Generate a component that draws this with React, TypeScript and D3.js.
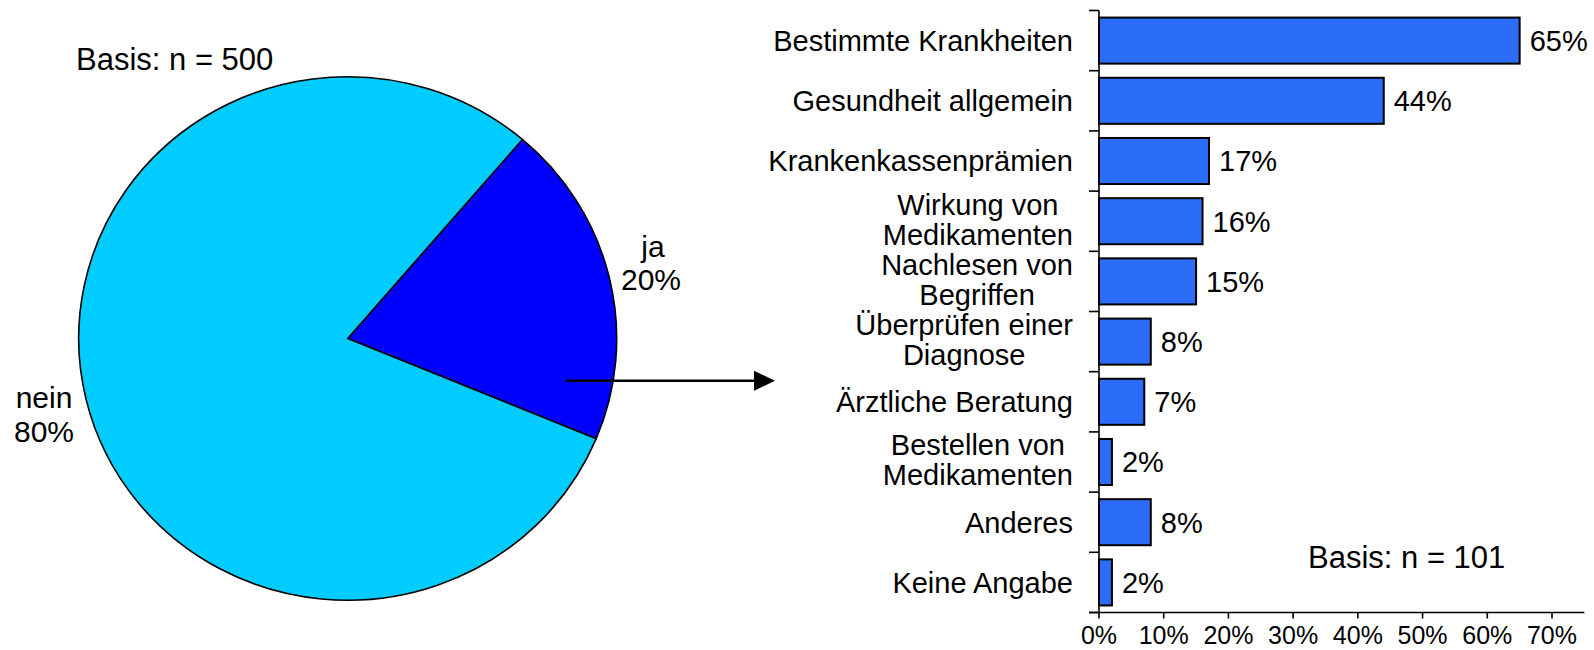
import React from 'react';
import * as d3 from 'd3';

// ---- data ----
const pieLabels = ['ja', 'nein'];
const pieValues = [20, 80];
const pieColors = ['#0000FF', '#00CCFF'];
const pieBasis = 'Basis: n = 500';

const categories = [
  'Bestimmte Krankheiten',
  'Gesundheit allgemein',
  'Krankenkassenprämien',
  'Wirkung von\nMedikamenten',
  'Nachlesen von\nBegriffen',
  'Überprüfen einer\nDiagnose',
  'Ärztliche Beratung',
  'Bestellen von\nMedikamenten',
  'Anderes',
  'Keine Angabe',
];
const values = [65, 44, 17, 16, 15, 8, 7, 2, 8, 2];
const xTicks = [0, 10, 20, 30, 40, 50, 60, 70];
const barBasis = 'Basis: n = 101';

// ---- layout ----
const W = 1594;
const H = 650;
const FONT = "'Liberation Sans', Arial, sans-serif";
const FS = 29;

let ctx: CanvasRenderingContext2D | null = null;
function measure(text: string, size: number) {
  if (!ctx) ctx = document.createElement('canvas').getContext('2d');
  ctx!.font = `${size}px ${FONT}`;
  return ctx!.measureText(text).width;
}

export default function App() {
  // bar chart scales
  const x = d3.scaleLinear().domain([0, 70]).range([1099, 1552]);
  const axisEnd = x(75);
  const y = d3
    .scaleBand<string>()
    .domain(categories)
    .range([10.5, 612.5])
    .paddingInner(0.235)
    .paddingOuter(0.1175);
  const step = y.step();
  const top = y.range()[0];
  const bottom = y.range()[1];
  const catTicks = d3.range(categories.length + 1).map((i) => top + i * step);
  const labelRight = 1073;

  // pie
  const start = (40.5 * Math.PI) / 180;
  const pie = d3.pie<number>().sort(null).startAngle(start).endAngle(start + 2 * Math.PI);
  const arcs = pie(pieValues);
  const arcGen = d3.arc<d3.PieArcDatum<number>>().innerRadius(0).outerRadius(269);

  return (
    <svg
      width={W}
      height={H}
      style={{ position: 'absolute', left: 0, top: 0, background: '#fff' }}
      fontFamily={FONT}
    >
      <rect width={W} height={H} fill="#fff" />
      {/* Pie */}
      <g transform="translate(347.7,338.5) scale(1,0.973)">
        {arcs.map((a, i) => (
          <path
            key={pieLabels[i]}
            d={arcGen(a) || ''}
            fill={pieColors[i]}
            stroke="#000"
            strokeWidth={1.6}
            strokeLinejoin="round"
            vectorEffect="non-scaling-stroke"
          />
        ))}
      </g>
      <text x={76} y={70} fontSize={31} fill="#000">
        {pieBasis}
      </text>
      {/* pie labels */}
      <text x={653} y={256.5} fontSize={30} textAnchor="middle" fill="#000">
        {pieLabels[0]}
      </text>
      <text x={651} y={290} fontSize={30} textAnchor="middle" fill="#000">
        {pieValues[0]}%
      </text>
      <text x={44} y={408.3} fontSize={30} textAnchor="middle" fill="#000">
        {pieLabels[1]}
      </text>
      <text x={44} y={441.7} fontSize={30} textAnchor="middle" fill="#000">
        {pieValues[1]}%
      </text>

      {/* Arrow */}
      <line x1={566} y1={380.7} x2={756} y2={380.7} stroke="#000" strokeWidth={2.5} />
      <polygon points="754,370.7 775,380.7 754,390.7" fill="#000" />

      {/* Bars */}
      {categories.map((c, i) => (
        <rect
          key={c}
          x={x(0)}
          y={y(c)!}
          width={x(values[i]) - x(0)}
          height={y.bandwidth()}
          fill="#2B6DF8"
          stroke="#000"
          strokeWidth={2}
        />
      ))}
      {/* value labels */}
      {categories.map((c, i) => (
        <text
          key={c + 'v'}
          x={x(values[i]) + 10}
          y={y(c)! + y.bandwidth() / 2}
          dy="0.36em"
          fontSize={FS}
          fill="#000"
        >
          {values[i]}%
        </text>
      ))}
      {/* category labels */}
      {categories.map((c) => {
        const lines = c.split('\n');
        const cy = y(c)! + y.bandwidth() / 2;
        if (lines.length === 1) {
          return (
            <text key={c + 'l'} x={labelRight} y={cy} dy="0.36em" fontSize={FS} textAnchor="end" fill="#000">
              {c}
            </text>
          );
        }
        const maxW = Math.max(...lines.map((l) => measure(l, FS)));
        const cx = labelRight - maxW / 2;
        const lh = 30;
        return (
          <g key={c + 'l'}>
            {lines.map((l, j) => (
              <text
                key={j}
                x={cx}
                y={cy + (j - (lines.length - 1) / 2) * lh - 2}
                dy="0.36em"
                fontSize={FS}
                textAnchor="middle"
                fill="#000"
              >
                {l}
              </text>
            ))}
          </g>
        );
      })}
      {/* y axis */}
      <line x1={x(0)} y1={top} x2={x(0)} y2={bottom} stroke="#000" strokeWidth={1.6} />
      {catTicks.map((t, i) => (
        <line key={'ct' + i} x1={x(0) - 10} y1={t} x2={x(0)} y2={t} stroke="#000" strokeWidth={1.6} />
      ))}
      {/* x axis */}
      <line x1={x(0) - 10} y1={bottom} x2={axisEnd} y2={bottom} stroke="#000" strokeWidth={1.6} />
      {xTicks.map((t) => (
        <g key={'xt' + t}>
          <line x1={x(t)} y1={bottom} x2={x(t)} y2={bottom + 6} stroke="#000" strokeWidth={1.6} />
          <text x={x(t)} y={644} fontSize={25} textAnchor="middle" fill="#000">
            {t}%
          </text>
        </g>
      ))}
      <text x={1308} y={568} fontSize={31} fill="#000">
        {barBasis}
      </text>
    </svg>
  );
}
